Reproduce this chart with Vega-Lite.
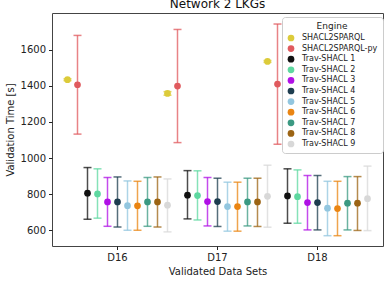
{
  "$schema": "https://vega.github.io/schema/vega-lite/v6.json",
  "width": 331,
  "height": 233,
  "autosize": "none",
  "padding": {"left": 52, "top": 13, "right": 6, "bottom": 36},
  "background": "white",
  "config": {
    "font": "DejaVu Sans",
    "view": {"stroke": "#444", "strokeWidth": 1},
    "axis": {"domain": false, "grid": false, "tickColor": "#222", "tickSize": 3.5, "labelColor": "#222", "titleColor": "#222", "labelFontSize": 10, "titleFontSize": 10, "titleFontWeight": "normal", "labelFont": "DejaVu Sans", "titleFont": "DejaVu Sans"},
    "legend": {"titleFont": "DejaVu Sans", "labelFont": "DejaVu Sans"}
  },
  "title": {"text": "Network 2 LKGs", "fontSize": 12, "fontWeight": "normal", "font": "DejaVu Sans", "color": "#111", "offset": 2},
  "data": {"values": [
    {"ds": "D16", "engine": "SHACL2SPARQL", "mean": 1434, "lo": 1429, "hi": 1439},
    {"ds": "D16", "engine": "SHACL2SPARQL-py", "mean": 1406, "lo": 1133, "hi": 1679},
    {"ds": "D16", "engine": "Trav-SHACL 1", "mean": 806, "lo": 662, "hi": 948},
    {"ds": "D16", "engine": "Trav-SHACL 2", "mean": 802, "lo": 668, "hi": 941},
    {"ds": "D16", "engine": "Trav-SHACL 3", "mean": 758, "lo": 623, "hi": 893},
    {"ds": "D16", "engine": "Trav-SHACL 4", "mean": 758, "lo": 619, "hi": 896},
    {"ds": "D16", "engine": "Trav-SHACL 5", "mean": 737, "lo": 601, "hi": 874},
    {"ds": "D16", "engine": "Trav-SHACL 6", "mean": 736, "lo": 601, "hi": 872},
    {"ds": "D16", "engine": "Trav-SHACL 7", "mean": 758, "lo": 623, "hi": 893},
    {"ds": "D16", "engine": "Trav-SHACL 8", "mean": 758, "lo": 619, "hi": 896},
    {"ds": "D16", "engine": "Trav-SHACL 9", "mean": 740, "lo": 592, "hi": 885},
    {"ds": "D17", "engine": "SHACL2SPARQL", "mean": 1358, "lo": 1348, "hi": 1368},
    {"ds": "D17", "engine": "SHACL2SPARQL-py", "mean": 1399, "lo": 1086, "hi": 1712},
    {"ds": "D17", "engine": "Trav-SHACL 1", "mean": 795, "lo": 664, "hi": 931},
    {"ds": "D17", "engine": "Trav-SHACL 2", "mean": 793, "lo": 658, "hi": 930},
    {"ds": "D17", "engine": "Trav-SHACL 3", "mean": 760, "lo": 625, "hi": 893},
    {"ds": "D17", "engine": "Trav-SHACL 4", "mean": 760, "lo": 622, "hi": 889},
    {"ds": "D17", "engine": "Trav-SHACL 5", "mean": 732, "lo": 596, "hi": 867},
    {"ds": "D17", "engine": "Trav-SHACL 6", "mean": 732, "lo": 596, "hi": 867},
    {"ds": "D17", "engine": "Trav-SHACL 7", "mean": 758, "lo": 625, "hi": 889},
    {"ds": "D17", "engine": "Trav-SHACL 8", "mean": 758, "lo": 622, "hi": 889},
    {"ds": "D17", "engine": "Trav-SHACL 9", "mean": 789, "lo": 618, "hi": 961},
    {"ds": "D18", "engine": "SHACL2SPARQL", "mean": 1535, "lo": 1530, "hi": 1540},
    {"ds": "D18", "engine": "SHACL2SPARQL-py", "mean": 1410, "lo": 1077, "hi": 1742},
    {"ds": "D18", "engine": "Trav-SHACL 1", "mean": 791, "lo": 640, "hi": 941},
    {"ds": "D18", "engine": "Trav-SHACL 2", "mean": 787, "lo": 640, "hi": 935},
    {"ds": "D18", "engine": "Trav-SHACL 3", "mean": 754, "lo": 603, "hi": 904},
    {"ds": "D18", "engine": "Trav-SHACL 4", "mean": 754, "lo": 603, "hi": 904},
    {"ds": "D18", "engine": "Trav-SHACL 5", "mean": 723, "lo": 571, "hi": 872},
    {"ds": "D18", "engine": "Trav-SHACL 6", "mean": 721, "lo": 571, "hi": 872},
    {"ds": "D18", "engine": "Trav-SHACL 7", "mean": 751, "lo": 603, "hi": 898},
    {"ds": "D18", "engine": "Trav-SHACL 8", "mean": 751, "lo": 600, "hi": 898},
    {"ds": "D18", "engine": "Trav-SHACL 9", "mean": 776, "lo": 599, "hi": 956}
  ]},
  "encoding": {
    "x": {"field": "ds", "type": "nominal", "title": "Validated Data Sets", "scale": {"type": "band", "domain": ["D16", "D17", "D18"], "paddingInner": 0, "paddingOuter": 0.155}, "axis": {"labelAngle": 0, "labelPadding": 3, "titlePadding": 4}},
    "xOffset": {"field": "engine", "type": "nominal", "scale": {"type": "point", "padding": 0, "domain": ["SHACL2SPARQL", "SHACL2SPARQL-py", "Trav-SHACL 1", "Trav-SHACL 2", "Trav-SHACL 3", "Trav-SHACL 4", "Trav-SHACL 5", "Trav-SHACL 6", "Trav-SHACL 7", "Trav-SHACL 8", "Trav-SHACL 9"]}},
    "color": {"field": "engine", "type": "nominal", "title": "Engine",
      "scale": {"domain": ["SHACL2SPARQL", "SHACL2SPARQL-py", "Trav-SHACL 1", "Trav-SHACL 2", "Trav-SHACL 3", "Trav-SHACL 4", "Trav-SHACL 5", "Trav-SHACL 6", "Trav-SHACL 7", "Trav-SHACL 8", "Trav-SHACL 9"],
        "range": ["#dccb3a", "#e05a5e", "#111111", "#5ed8a0", "#b010e6", "#1e3d4f", "#92c6df", "#ea8513", "#3b9982", "#9c6414", "#d8d8d8"]},
      "legend": {"orient": "none", "legendX": 230, "legendY": 4, "fillColor": "white", "strokeColor": "#cccccc", "padding": 5, "cornerRadius": 3,
        "titleFontSize": 9, "titleFontWeight": "normal", "titleColor": "#222", "titleAnchor": "middle", "titlePadding": 3,
        "labelFontSize": 8, "labelColor": "#222", "labelOffset": 7, "symbolSize": 45, "symbolType": "circle", "symbolOpacity": 1, "rowPadding": 2.6, "symbolStrokeWidth": 0}}
  },
  "layer": [
    {"mark": {"type": "rule", "strokeWidth": 1.5, "opacity": 0.75},
     "encoding": {"y": {"field": "lo", "type": "quantitative"}, "y2": {"field": "hi"}}},
    {"mark": {"type": "tick", "size": 8, "thickness": 1.5, "opacity": 0.75, "orient": "horizontal"},
     "encoding": {"y": {"field": "lo", "type": "quantitative"}}},
    {"mark": {"type": "tick", "size": 8, "thickness": 1.5, "opacity": 0.75, "orient": "horizontal"},
     "encoding": {"y": {"field": "hi", "type": "quantitative"}}},
    {"mark": {"type": "point", "filled": true, "opacity": 1, "size": 45, "shape": "circle"},
     "encoding": {"y": {"field": "mean", "type": "quantitative", "title": "Validation Time [s]",
        "scale": {"domain": [514, 1803], "nice": false, "zero": false},
        "axis": {"values": [600, 800, 1000, 1200, 1400, 1600], "format": "d", "labelPadding": 3, "titlePadding": 5}}}}
  ]
}
